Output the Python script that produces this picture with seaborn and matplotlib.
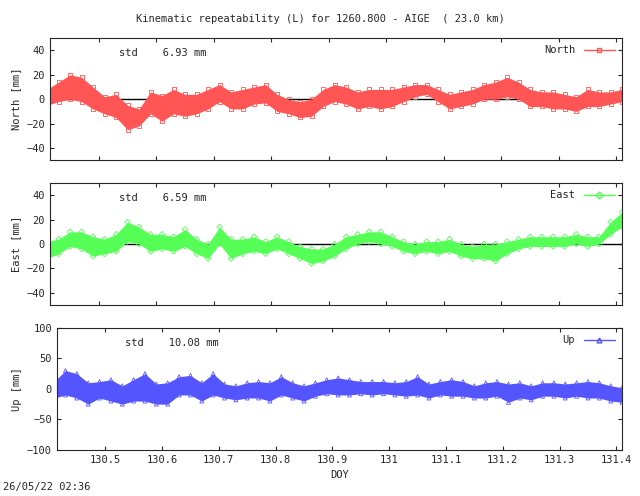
import numpy as np
import pandas as pd
import matplotlib
matplotlib.use("Agg")
import matplotlib.pyplot as plt
import seaborn as sns
from matplotlib.lines import Line2D

# DOY sample positions (envelope every 0.02 day)
doy = [130.41, 130.43, 130.45, 130.47, 130.49, 130.51, 130.53, 130.55, 130.57, 130.59,
       130.61, 130.63, 130.65, 130.67, 130.69, 130.71, 130.73, 130.75, 130.77, 130.79,
       130.81, 130.83, 130.85, 130.87, 130.89, 130.91, 130.93, 130.95, 130.97, 130.99,
       131.01, 131.03, 131.05, 131.07, 131.09, 131.11, 131.13, 131.15, 131.17, 131.19,
       131.21, 131.23, 131.25, 131.27, 131.29, 131.31, 131.33, 131.35, 131.37, 131.39,
       131.41]

north_lo = [-5, -2, 0, -2, -8, -12, -15, -25, -22, -12, -18, -12, -14, -12, -8, -2, -8, -8, -4, -3,
            -10, -12, -15, -14, -6, -2, -4, -8, -6, -8, -6, -2, 2, 4, -2, -8, -6, -4, 0, 0,
            2, 0, -6, -6, -8, -8, -10, -6, -6, -4, -2]
north_hi = [8, 14, 20, 18, 10, 2, 4, -5, -8, 6, 3, 8, 4, 4, 8, 12, 6, 8, 10, 12,
            4, 0, -2, 0, 8, 12, 10, 6, 8, 8, 8, 10, 12, 12, 8, 4, 6, 8, 12, 14,
            18, 14, 8, 6, 6, 4, 2, 8, 6, 6, 8]

east_lo = [-12, -8, -2, -4, -10, -8, -6, 2, 0, -6, -4, -6, -2, -8, -12, 0, -12, -8, -6, -8,
           -4, -8, -12, -16, -14, -10, -4, 0, 2, 0, -2, -6, -8, -6, -8, -6, -10, -12, -12, -14,
           -8, -4, -2, -2, -2, -2, 0, -2, 0, 8, 14]
east_hi = [2, 4, 10, 10, 6, 4, 8, 18, 14, 8, 8, 6, 12, 4, 0, 14, 4, 4, 6, 2,
           6, 2, -2, -4, -4, 0, 6, 8, 10, 10, 6, 2, 0, 2, 2, 4, 0, -2, 0, 0,
           2, 4, 6, 6, 6, 6, 8, 6, 6, 18, 26]

up_lo = [-15, -10, -15, -25, -15, -20, -25, -20, -20, -25, -25, -10, -10, -20, -10, -15, -18, -15, -15, -20,
         -10, -15, -20, -12, -8, -10, -10, -8, -10, -8, -10, -12, -10, -15, -10, -12, -12, -15, -15, -12,
         -22, -15, -18, -12, -12, -15, -12, -15, -15, -20, -22]
up_hi = [12, 30, 25, 10, 12, 15, 5, 15, 25, 8, 10, 20, 22, 10, 25, 8, 5, 10, 12, 10,
         20, 10, 5, 10, 15, 18, 15, 12, 12, 12, 10, 12, 20, 8, 12, 15, 12, 5, 10, 12,
         8, 10, 5, 10, 10, 8, 10, 12, 10, 5, 2]

panels = [
    ("North", north_lo, north_hi, "#ff5555", "s", (-50, 50), [-40, -20, 0, 20, 40], "6.93",
     [0.078, 0.677, 0.894, 0.246]),
    ("East", east_lo, east_hi, "#55ff55", "D", (-50, 50), [-40, -20, 0, 20, 40], "6.59",
     [0.078, 0.385, 0.894, 0.246]),
    ("Up", up_lo, up_hi, "#5555ff", "^", (-100, 100), [-100, -50, 0, 50, 100], "10.08",
     [0.089, 0.093, 0.883, 0.246]),
]

xticks = [130.5, 130.6, 130.7, 130.8, 130.9, 131, 131.1, 131.2, 131.3, 131.4]
xticklabels = ["130.5", "130.6", "130.7", "130.8", "130.9", "131", "131.1", "131.2", "131.3", "131.4"]

sns.set_style("ticks")
plt.rcParams["font.family"] = "DejaVu Sans Mono"
plt.rcParams["font.size"] = 7.5

fig = plt.figure(figsize=(6.4, 4.96), dpi=100)

for name, lo, hi, color, mk, ylim, yticks, std, pos in panels:
    ax = fig.add_axes(pos)
    df = pd.DataFrame({"doy": doy, "lo": lo, "hi": hi})
    ax.axhline(0, color="black", lw=1, zorder=1)
    ax.fill_between(df["doy"], df["lo"], df["hi"], color=color, lw=0, zorder=2)
    for col in ["lo", "hi"]:
        sns.scatterplot(data=df, x="doy", y=col, ax=ax, marker=mk, s=8,
                        facecolor="none", edgecolor=color, linewidth=0.6, zorder=3)
    ax.set_xlim(130.415, 131.41)
    ax.set_ylim(*ylim)
    ax.set_yticks(yticks)
    ax.set_xticks(xticks)
    ax.tick_params(direction="in", top=True, right=True, length=3)
    ax.set_ylabel(f"{name} [mm]")
    ax.set_xlabel("")
    ax.text(0.12, 0.92, f"std    {std} mm", transform=ax.transAxes, va="top")
    h = Line2D([], [], color=color, marker=mk, markerfacecolor="none", markersize=3.5, lw=1)
    ax.legend([h], [name], loc="upper right", frameon=False, handlelength=3,
              borderaxespad=0.3, markerfirst=False)
    if name == "Up":
        ax.set_xticklabels(xticklabels)
        ax.set_xlabel("DOY")
    else:
        ax.set_xticklabels([])

fig.text(0.5, 0.956, "Kinematic repeatability (L) for 1260.800 - AIGE  ( 23.0 km)", ha="center")
fig.text(0.005, 0.012, "26/05/22 02:36", ha="left")

fig.savefig("out.png", dpi=100)
